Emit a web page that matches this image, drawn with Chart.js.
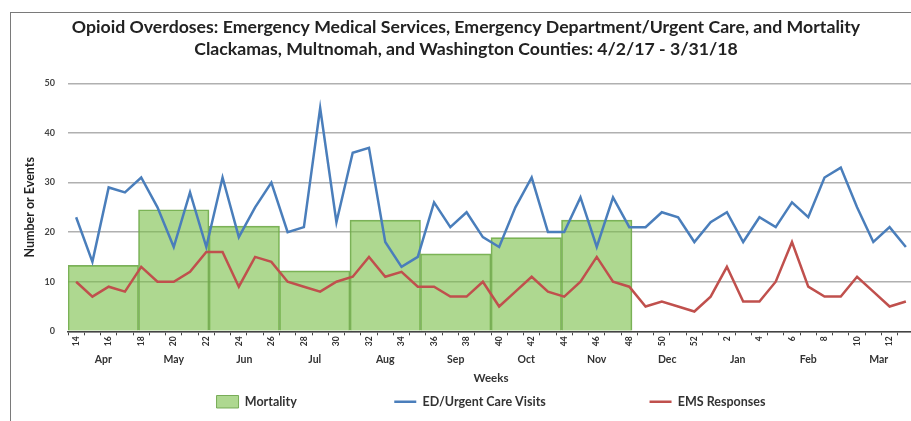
<!DOCTYPE html>
<html>
<head>
<meta charset="utf-8">
<script src="https://cdn.jsdelivr.net/npm/chart.js@4.4.1/dist/chart.umd.min.js"></script>
<style>
    body { margin: 0; background: #fff; overflow: hidden; }
    .frame { position: absolute; left: 10px; top: 12px; width: 920px; height: 430px; border: 1.5px solid #7a7a7a; }
    .chart-box { position: absolute; left: 0; top: 0; width: 920px; height: 421px; }
</style>
</head>
<body>
<div class="frame"></div>
<div class="chart-box"><canvas id="overdose-chart"></canvas></div>
<script>
const weeks = ['14', '15', '16', '17', '18', '19', '20', '21', '22', '23', '24', '25', '26',
    '27', '28', '29', '30', '31', '32', '33', '34', '35', '36', '37', '38', '39', '40',
    '41', '42', '43', '44', '45', '46', '47', '48', '49', '50', '51', '52',
    '1', '2', '3', '4', '5', '6', '7', '8', '9', '10', '11', '12', '13'];
const months = ['Apr', 'May', 'Jun', 'Jul', 'Aug', 'Sep', 'Oct', 'Nov', 'Dec', 'Jan', 'Feb', 'Mar'];

const edVisits = [23, 14, 29, 28, 31, 25, 17, 28, 17, 31, 19, 25, 30,
    20, 21, 45, 22, 36, 37, 18, 13, 15, 26, 21, 24, 19, 17,
    25, 31, 20, 20, 27, 17, 27, 21, 21, 24, 23, 18,
    22, 24, 18, 23, 21, 26, 23, 31, 33, 25, 18, 21, 17];
const emsResponses = [10, 7, 9, 8, 13, 10, 10, 12, 16, 16, 9, 15, 14,
    10, 9, 8, 10, 11, 15, 11, 12, 9, 9, 7, 7, 10, 5,
    8, 11, 8, 7, 10, 15, 10, 9, 5, 6, 5, 4,
    7, 13, 6, 6, 10, 18, 9, 7, 7, 11, 8, 5, 6];
const mortality = [13.3, 24.5, 21.2, 12.2, 22.4, 15.6, 18.9, 22.4, null, null, null, null];

const yTicks = [0, 10, 20, 30, 40, 50];

Chart.defaults.font.family = 'Lato, "Open Sans", sans-serif';
Chart.defaults.color = '#333';

// extra gap after legend text, the legend padding also pads vertically
const legendGaps = ['\u2002'.repeat(14), '\u2002'.repeat(15), ''];

const ctx = document.getElementById('overdose-chart').getContext('2d');
new Chart(ctx, {
    type: 'bar',
    data: {
        labels: weeks,
        datasets: [{
            type: 'bar',
            label: 'Mortality',
            data: mortality,
            xAxisID: 'x2',
            backgroundColor: 'rgba(120, 190, 70, 0.6)',
            borderColor: 'rgba(110, 165, 75, 0.9)',
            borderWidth: 1,
            barPercentage: 1,
            categoryPercentage: 1,
            grouped: false,
            pointStyle: 'rect',
            order: 2
        }, {
            type: 'line',
            label: 'ED/Urgent Care Visits',
            data: edVisits,
            xAxisID: 'x',
            borderColor: '#4a7ebb',
            backgroundColor: '#4a7ebb',
            borderWidth: 2.5,
            pointRadius: 0,
            pointStyle: 'line',
            tension: 0,
            order: 0
        }, {
            type: 'line',
            label: 'EMS Responses',
            data: emsResponses,
            xAxisID: 'x',
            borderColor: '#c0504d',
            backgroundColor: '#c0504d',
            borderWidth: 2.5,
            pointRadius: 0,
            pointStyle: 'line',
            tension: 0,
            order: 1
        }]
    },
    options: {
        responsive: true,
        maintainAspectRatio: false,
        animation: false,
        layout: {
            padding: { left: 18, right: 6, top: 0, bottom: 3 }
        },
        scales: {
            x: {
                type: 'category',
                position: 'bottom',
                offset: true,
                grid: {
                    offset: true,
                    drawOnChartArea: false,
                    tickLength: 4,
                    color: '#444'
                },
                border: { color: '#444', width: 1.5 },
                ticks: {
                    autoSkip: false,
                    minRotation: 90,
                    maxRotation: 90,
                    padding: 1,
                    font: { size: 8.5, weight: 'bold' },
                    color: '#333',
                    callback: function(value, index) {
                        return index % 2 === 0 ? this.getLabelForValue(value) : '';
                    }
                }
            },
            x2: {
                type: 'category',
                labels: months,
                position: 'bottom',
                offset: true,
                grid: { display: false, drawTicks: false },
                border: { display: false },
                ticks: {
                    padding: 7,
                    font: { size: 10.5, weight: 'bold', lineHeight: 1 },
                    color: '#333'
                },
                title: {
                    display: true,
                    text: 'Weeks',
                    font: { size: 11.5, weight: 'bold' },
                    color: '#333',
                    padding: { top: 0, bottom: 0 }
                }
            },
            y: {
                min: yTicks[0],
                max: yTicks[yTicks.length - 1],
                afterBuildTicks: (scale) => {
                    scale.ticks = yTicks.map(v => ({ value: v }));
                },
                afterFit: (scale) => {
                    scale.width = 50;
                },
                grid: {
                    color: '#b0b0b0',
                    lineWidth: 1.5,
                    drawTicks: false
                },
                border: { display: false },
                ticks: {
                    padding: 13,
                    font: { size: 9, weight: 'bold' },
                    color: '#444'
                },
                title: {
                    display: true,
                    text: 'Number or Events',
                    font: { size: 12.5, weight: 'bold' },
                    color: '#222'
                }
            }
        },
        plugins: {
            title: {
                display: true,
                text: [
                    'Opioid Overdoses: Emergency Medical Services, Emergency Department/Urgent Care, and Mortality',
                    'Clackamas, Multnomah, and Washington Counties: 4/2/17 - 3/31/18'
                ],
                font: { size: 17.7, weight: 'bold', lineHeight: 1.25 },
                color: '#222',
                padding: { top: 16, bottom: 23 }
            },
            legend: {
                position: 'bottom',
                fullSize: false,
                labels: {
                    usePointStyle: true,
                    pointStyleWidth: 22,
                    padding: 10,
                    font: { size: 12.5, weight: 'bold' },
                    color: '#333',
                    generateLabels: (chart) => {
                        return Chart.defaults.plugins.legend.labels.generateLabels(chart).map(item => {
                            item.text = item.text + legendGaps[item.datasetIndex];
                            return item;
                        });
                    },
                    sort: (a, b) => a.datasetIndex - b.datasetIndex
                }
            },
            tooltip: { enabled: false }
        }
    }
});
</script>
</body>
</html>
